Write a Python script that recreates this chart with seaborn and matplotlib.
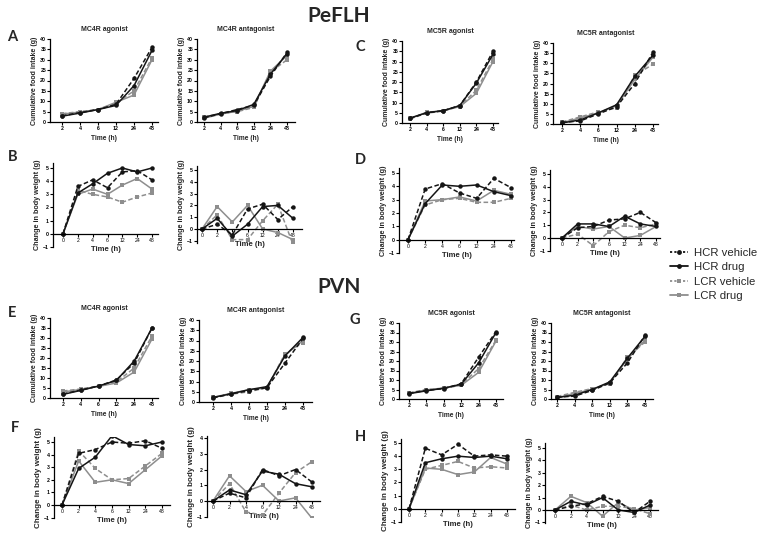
import numpy as np
import pandas as pd
import matplotlib
matplotlib.use("Agg")
import matplotlib.pyplot as plt
import seaborn as sns
from matplotlib.lines import Line2D

# ---------------- data ----------------
groups = ["HCR vehicle", "HCR drug", "LCR vehicle", "LCR drug"]
food_x = ["2", "4", "6", "12", "24", "48"]
bw_x = ["0", "2", "4", "6", "12", "24", "48"]

# cumulative food intake (g); rows: HCR vehicle, HCR drug, LCR vehicle, LCR drug
pefl_mc4r_ago_food = [[3.0, 4.5, 6.0, 8.5, 21.0, 36.0],
                      [2.8, 4.3, 6.0, 8.0, 17.5, 34.5],
                      [4.0, 5.0, 6.0, 9.0, 15.0, 31.0],
                      [3.8, 4.8, 6.0, 9.5, 13.0, 30.0]]
pefl_mc4r_ant_food = [[2.0, 4.0, 6.0, 8.0, 22.0, 33.5],
                      [2.3, 4.2, 5.5, 8.5, 23.0, 33.0],
                      [2.5, 4.0, 5.0, 7.0, 24.0, 30.0],
                      [1.8, 3.8, 5.2, 7.5, 24.5, 32.0]]
pefl_mc5r_ago_food = [[2.2, 5.0, 6.0, 8.5, 20.0, 35.0],
                      [2.4, 5.0, 6.0, 8.5, 19.5, 33.5],
                      [2.0, 4.8, 5.8, 8.3, 16.0, 31.0],
                      [2.2, 5.2, 6.0, 8.0, 14.5, 30.0]]
pefl_mc5r_ant_food = [[0.8, 1.5, 5.0, 8.5, 20.0, 35.5],
                      [0.5, 2.0, 5.5, 9.5, 23.5, 34.0],
                      [1.0, 3.5, 6.0, 8.0, 24.0, 29.5],
                      [0.6, 3.0, 5.5, 9.0, 22.0, 33.0]]
pvn_mc4r_ago_food = [[2.0, 4.0, 6.0, 9.0, 17.5, 35.0],
                     [1.8, 3.8, 6.0, 8.8, 18.5, 35.0],
                     [3.5, 4.5, 6.0, 8.0, 15.0, 31.0],
                     [3.0, 4.3, 5.8, 7.5, 13.0, 29.5]]
pvn_mc4r_ant_food = [[2.0, 4.0, 5.5, 7.0, 19.0, 31.0],
                     [2.2, 4.0, 6.0, 7.5, 22.5, 31.5],
                     [2.0, 3.8, 5.0, 7.0, 23.5, 29.0],
                     [2.3, 4.2, 6.0, 6.8, 23.0, 30.0]]
pvn_mc5r_ago_food = [[3.0, 4.5, 5.5, 8.0, 22.0, 35.5],
                     [2.8, 4.3, 5.7, 7.8, 19.0, 35.0],
                     [3.2, 5.0, 5.5, 7.5, 16.0, 31.0],
                     [3.0, 4.8, 5.8, 7.2, 14.0, 30.5]]
pvn_mc5r_ant_food = [[1.0, 1.5, 4.5, 8.5, 19.0, 33.5],
                     [0.8, 2.0, 5.0, 9.0, 21.5, 33.0],
                     [1.3, 3.5, 5.5, 8.0, 22.0, 30.0],
                     [0.6, 3.0, 5.0, 8.5, 21.0, 31.0]]

# change in body weight (g)
pefl_mc4r_ago_bw = [[0, 3.6, 4.1, 3.5, 4.7, 4.8, 4.1],
                    [0, 3.1, 3.8, 4.6, 5.0, 4.7, 5.0],
                    [0, 3.3, 3.0, 2.8, 2.4, 2.8, 3.1],
                    [0, 3.0, 3.4, 3.0, 3.7, 4.2, 3.4]]
pefl_mc4r_ant_bw = [[0, 0.4, -0.5, 1.7, 2.1, 0.8, 1.9],
                    [0, 0.9, -0.6, 0.4, 1.9, 2.0, 0.9],
                    [0, 1.2, -0.9, -0.9, 0.7, 2.1, -1.3],
                    [0, 1.9, 0.6, 2.0, 0.0, -0.3, -0.9]]
pefl_mc5r_ago_bw = [[0, 3.8, 4.2, 3.5, 3.1, 4.6, 3.9],
                    [0, 2.7, 4.1, 4.0, 4.1, 3.6, 3.3],
                    [0, 2.6, 3.0, 3.1, 2.8, 2.8, 3.1],
                    [0, 2.9, 3.0, 3.2, 2.9, 3.7, 3.4]]
pefl_mc5r_ant_bw = [[0, 0.8, 0.9, 1.4, 1.5, 2.0, 1.2],
                    [0, 1.1, 1.1, 0.9, 1.7, 1.1, 0.9],
                    [0, 0.3, -0.6, 0.5, 1.0, 0.8, 1.1],
                    [0, 0.9, 0.7, 0.9, 0.0, 0.2, 0.9]]
pvn_mc4r_ago_bw = [[0, 4.1, 4.4, 5.0, 4.9, 5.1, 4.5],
                   [0, 2.9, 3.8, 5.5, 4.8, 4.7, 5.0],
                   [0, 4.3, 2.9, 2.0, 2.1, 3.1, 4.1],
                   [0, 3.5, 1.8, 2.0, 1.7, 2.8, 3.9]]
pvn_mc4r_ant_bw = [[0, 0.5, 0.2, 2.0, 1.6, 2.0, 1.2],
                   [0, 0.7, 0.4, 1.9, 1.7, 1.1, 0.9],
                   [0, 1.1, -0.7, -0.9, 0.5, 1.8, 2.5],
                   [0, 1.6, 0.6, 1.0, 0.0, 0.2, -1.1]]
pvn_mc5r_ago_bw = [[0, 4.6, 4.1, 4.9, 4.0, 4.1, 4.0],
                   [0, 3.5, 3.8, 4.0, 3.9, 4.0, 3.8],
                   [0, 3.0, 3.3, 3.6, 3.1, 3.2, 3.1],
                   [0, 3.1, 3.0, 2.6, 2.8, 3.9, 3.4]]
pvn_mc5r_ant_bw = [[0, 0.3, 0.5, 1.1, 0.7, -0.2, 0.7],
                   [0, 0.7, 0.4, 1.0, 0.0, -0.2, 0.4],
                   [0, 0.4, 0.0, 0.3, 0.3, 0.1, -0.3],
                   [0, 1.1, 0.6, -0.5, 0.6, 0.0, 0.2]]

# ---------------- style ----------------
W, H = 773, 545
sns.set_theme(style="ticks")
plt.rcParams['font.family'] = ['Liberation Sans', 'DejaVu Sans']
plt.rcParams.update({
    'axes.linewidth': 0.9, 'xtick.major.width': 0.8, 'ytick.major.width': 0.8,
    'xtick.major.size': 2.0, 'ytick.major.size': 2.0,
    'xtick.major.pad': 1.0, 'ytick.major.pad': 0.8,
    'xtick.labelsize': 3.7, 'ytick.labelsize': 3.7,
    'axes.edgecolor': 'black', 'xtick.color': 'black', 'ytick.color': 'black',
})

BLACK = "#151515"
GRAY = "#8e8e8e"
palette = {"HCR vehicle": BLACK, "HCR drug": BLACK, "LCR vehicle": GRAY, "LCR drug": GRAY}
markers = {"HCR vehicle": "o", "HCR drug": "o", "LCR vehicle": "s", "LCR drug": "s"}
dashes = {"HCR vehicle": (3, 1.6), "HCR drug": "", "LCR vehicle": (3, 1.6), "LCR drug": ""}
draw_order = ["LCR drug", "LCR vehicle", "HCR drug", "HCR vehicle"]

fig = plt.figure(figsize=(W / 100, H / 100), dpi=100)


def px_ax(L, R, T, B):
    return fig.add_axes([L / W, 1 - B / H, (R - L) / W, (B - T) / H])


def to_long(vals, xlabels):
    rows = []
    for g, series in zip(groups, vals):
        for i, v in enumerate(series):
            rows.append({"xi": i, "val": v, "group": g})
    return pd.DataFrame(rows)


def draw(ax, vals, xlabels):
    df = to_long(vals, xlabels)
    sns.lineplot(data=df, x="xi", y="val", hue="group", style="group",
                 hue_order=draw_order, style_order=draw_order,
                 palette=palette, markers=markers, dashes=dashes,
                 markersize=3.2, markeredgewidth=0, linewidth=1.1,
                 legend=False, ax=ax, sort=False, errorbar=None)


def bold_ticks(ax):
    for t in ax.get_xticklabels() + ax.get_yticklabels():
        t.set_fontweight("bold")


def food_panel(L, R, T, B, x0, x1, vals, title):
    ax = px_ax(L, R, T, B)
    draw(ax, vals, food_x)
    unit = (x1 - x0) / 5
    ax.set_xlim((L - x0) / unit, (R - x0) / unit)
    ax.set_ylim(0, 40)
    ax.set_xticks(range(len(food_x)), food_x)
    ax.set_yticks(range(0, 41, 5))
    bold_ticks(ax)
    ax.set_title(title, fontsize=5.0, fontweight="bold", pad=5.5)
    ax.set_xlabel("Time (h)", fontsize=4.8, fontweight="bold", labelpad=3)
    ax.set_ylabel("Cumulative food intake (g)", fontsize=5.0, fontweight="bold", labelpad=1.5)
    sns.despine(ax=ax)
    return ax


def bw_panel(L, R, T, B, x0, x1, yk, yk_px, y0_px, vals, ylab_fs=5.2):
    ax = px_ax(L, R, T, B)
    draw(ax, vals, bw_x)
    unit = (x1 - x0) / 6
    ax.set_xlim((L - x0) / unit, (R - x0) / unit)
    s = yk / (y0_px - yk_px)
    ax.set_ylim(-(B - y0_px) * s, (y0_px - T) * s)
    ax.set_xticks(range(len(bw_x)), bw_x)
    ax.set_yticks(range(-1, yk + 1))
    bold_ticks(ax)
    ax.set_xlabel("Time (h)", fontsize=5.6, fontweight="bold", labelpad=2)
    ax.set_ylabel("Change in body weight (g)", fontsize=ylab_fs, fontweight="bold", labelpad=1.5)
    sns.despine(ax=ax)
    ax.spines['bottom'].set_position(('data', 0))
    return ax


# PeFLH food intake
food_panel(50, 158, 39, 122, 62, 152, pefl_mc4r_ago_food, "MC4R agonist")
food_panel(197, 295, 39, 122, 204, 287, pefl_mc4r_ant_food, "MC4R antagonist")
food_panel(402, 498, 41, 123, 410, 493, pefl_mc5r_ago_food, "MC5R agonist")
food_panel(553, 658, 43, 124, 562, 653, pefl_mc5r_ant_food, "MC5R antagonist")
# PeFLH body weight
bw_panel(53, 158, 163, 247, 63, 152, 5, 168, 234, pefl_mc4r_ago_bw)
bw_panel(197, 302, 166, 243, 202, 293, 5, 170, 229, pefl_mc4r_ant_bw)
bw_panel(399, 514, 168, 253, 408, 511, 5, 173, 240, pefl_mc5r_ago_bw)
bw_panel(550, 660, 170, 251, 562, 656, 5, 174, 238, pefl_mc5r_ant_bw)
# PVN food intake
food_panel(50, 158, 318, 398, 63, 152, pvn_mc4r_ago_food, "MC4R agonist")
food_panel(199, 312, 320, 402, 213, 303, pvn_mc4r_ant_food, "MC4R antagonist")
food_panel(399, 503, 323, 399, 409, 496, pvn_mc5r_ago_food, "MC5R agonist")
food_panel(551, 653, 323, 399, 557, 645, pvn_mc5r_ant_food, "MC5R antagonist")
# PVN body weight
bw_panel(54, 170, 437, 518, 62, 162, 5, 442, 505, pvn_mc4r_ago_bw, ylab_fs=5.8)
bw_panel(207, 320, 436, 517, 213, 312, 4, 438, 501, pvn_mc4r_ant_bw, ylab_fs=5.8)
bw_panel(401, 515, 439, 522, 409, 507, 5, 443, 509, pvn_mc5r_ago_bw, ylab_fs=5.8)
bw_panel(545, 658, 443, 523, 555, 650, 5, 448, 510, pvn_mc5r_ant_bw)

# headings and panel letters
head_font = ['Lato', 'DejaVu Sans']
fig.text(339 / W, 1 - 16 / H, "PeFLH", fontsize=15, fontweight="bold", family=head_font,
         ha="center", va="center")
fig.text(339 / W, 1 - 287 / H, "PVN", fontsize=15, fontweight="bold", family=head_font,
         ha="center", va="center")
for lab, x, y in [("A", 12, 37), ("B", 13, 157), ("C", 360, 47), ("D", 360, 160),
                  ("E", 12, 313), ("F", 15, 428), ("G", 355, 320), ("H", 360, 437)]:
    fig.text(x / W, 1 - y / H, lab, fontsize=10.5, fontweight="bold", family=head_font,
             ha="center", va="center")

# legend
handles = [Line2D([], [], color=palette[g], marker=markers[g], markersize=3.5,
                  markeredgewidth=0, linewidth=1.3,
                  linestyle=(0, (1.2, 1.2)) if "vehicle" in g else "-")
           for g in groups]
fig.legend(handles, groups, loc="upper left", bbox_to_anchor=(670 / W, 1 - 248 / H),
           frameon=False, fontsize=8.2, handlelength=1.6, handletextpad=0.5,
           labelspacing=0.38, borderpad=0, borderaxespad=0)

fig.savefig("out.png", dpi=100)
